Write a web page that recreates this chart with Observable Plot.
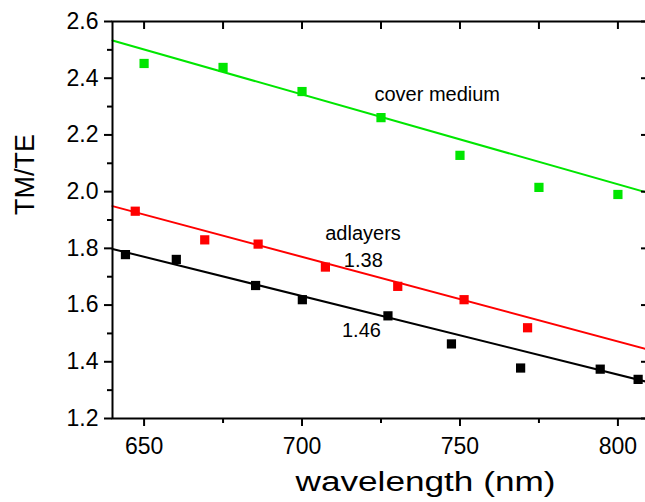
<!DOCTYPE html>
<html>
<head>
<meta charset="utf-8">
<script src="https://cdn.jsdelivr.net/npm/d3@7"></script>
<script src="https://cdn.jsdelivr.net/npm/@observablehq/plot@0.6"></script>
<style>
  html, body { margin: 0; padding: 0; background: #fff; overflow: hidden; }
  #chart { width: 645px; height: 502px; overflow: hidden; }
  #chart svg { display: block; max-width: none !important; }
</style>
</head>
<body>
<div id="chart"></div>
<script>
// ---- data ----
const coverX = [650, 675, 700, 725, 750, 775, 800];
const coverY = [2.452, 2.438, 2.353, 2.261, 2.128, 2.015, 1.990];
const ad138X = [647.2, 669.2, 686.1, 707.4, 730.3, 751.3, 771.4];
const ad138Y = [1.931, 1.830, 1.815, 1.734, 1.666, 1.619, 1.520];
const ad146X = [644.1, 660.2, 685.3, 700.1, 727.2, 747.3, 769.2, 794.4, 806.4];
const ad146Y = [1.778, 1.761, 1.669, 1.619, 1.562, 1.463, 1.378, 1.374, 1.338];

const fitX = [640, 810];
const coverFit = [2.533, 1.994];
const ad138Fit = [1.949, 1.442];
const ad146Fit = [1.798, 1.327];

const xMajor = [650, 700, 750, 800];
const xMinor = [675, 725, 775];
const xAll = [650, 675, 700, 725, 750, 775, 800];
const yMajor = [1.2, 1.4, 1.6, 1.8, 2.0, 2.2, 2.4, 2.6];
const yMinor = [1.3, 1.5, 1.7, 1.9, 2.1, 2.3, 2.5];

const labels = [
  {text: "cover medium", x: 742.8, y: 2.321},
  {text: "adlayers", x: 719.3, y: 1.831},
  {text: "1.38", x: 719.4, y: 1.736},
  {text: "1.46", x: 718.8, y: 1.486}
];

const xLabel = "wavelength (nm)";
const yLabel = "TM/TE";

const GREEN = "#00e600";
const RED = "#ff0000";
const BLACK = "#000000";

const pts = (xs, ys) => xs.map((x, i) => ({x, y: ys[i]}));
const fit = (ys) => fitX.map((x, i) => ({x, y: ys[i]}));

const FONT = "Liberation Sans, Arial, Helvetica, sans-serif";

const W = 649, H = 502, ML = 112, MR = 0, MT = 21, MB = 84;
const frameW = W - ML - MR, frameH = H - MT - MB;
const INNER_TICK = 8;

const chart = Plot.plot({
  width: W,
  height: H,
  marginLeft: ML,
  marginRight: MR,
  marginTop: MT,
  marginBottom: MB,
  style: {fontFamily: FONT, background: "#fff", color: "#000", maxWidth: "none"},
  x: {domain: [640, 810]},
  y: {domain: [1.2, 2.6]},
  marks: [
    // fitted lines
    Plot.line(fit(coverFit), {x: "x", y: "y", stroke: GREEN, strokeWidth: 2}),
    Plot.line(fit(ad138Fit), {x: "x", y: "y", stroke: RED, strokeWidth: 2}),
    Plot.line(fit(ad146Fit), {x: "x", y: "y", stroke: BLACK, strokeWidth: 2}),
    // measured points
    Plot.dot(pts(coverX, coverY), {x: "x", y: "y", symbol: "square", r: 5.2, fill: GREEN, stroke: "none"}),
    Plot.dot(pts(ad138X, ad138Y), {x: "x", y: "y", symbol: "square", r: 5.2, fill: RED, stroke: "none"}),
    Plot.dot(pts(ad146X, ad146Y), {x: "x", y: "y", symbol: "square", r: 5.2, fill: BLACK, stroke: "none"}),
    // annotations
    Plot.text(labels, {x: "x", y: "y", text: "text", fontSize: 20, lineAnchor: "bottom", textAnchor: "middle", fill: "#000"}),
    // axes
    Plot.axisY(yMajor, {anchor: "left", tickSize: 8, tickPadding: 6, strokeWidth: 2, tickFormat: d3.format(".1f"), fontSize: 23, label: null}),
    Plot.axisY(yMinor, {anchor: "left", tickSize: 5, strokeWidth: 2, text: null, label: null}),
    Plot.axisX(xMajor, {anchor: "bottom", tickSize: 8, tickPadding: 11, strokeWidth: 2, fontSize: 23, tickFormat: d3.format("d"), label: null}),
    Plot.axisX(xMinor, {anchor: "bottom", tickSize: 5, strokeWidth: 2, text: null, label: null}),
    // inward ticks on the top and right edges of the box
    Plot.tickX(xAll, {x: (d) => d, insetBottom: frameH - INNER_TICK, stroke: "#000", strokeWidth: 2}),
    Plot.tickY(yMajor, {y: (d) => d, insetLeft: frameW - INNER_TICK, stroke: "#000", strokeWidth: 2}),
    Plot.frame({stroke: "#000", strokeWidth: 2}),
    // axis titles
    Plot.text([xLabel], {frameAnchor: "bottom", dx: 44.5, dy: 72, lineAnchor: "bottom", fontSize: 27, fill: "#000"}),
    Plot.text([yLabel], {frameAnchor: "left", rotate: -90, dx: -87, dy: -5, lineAnchor: "middle", fontSize: 27, fill: "#000"})
  ]
});

document.getElementById("chart").appendChild(chart);

// stretch the x title horizontally like the reference's wide lettering
d3.select(chart).selectAll("text").filter(function () { return this.textContent === xLabel; })
  .attr("textLength", 260).attr("lengthAdjust", "spacingAndGlyphs");
</script>
</body>
</html>
